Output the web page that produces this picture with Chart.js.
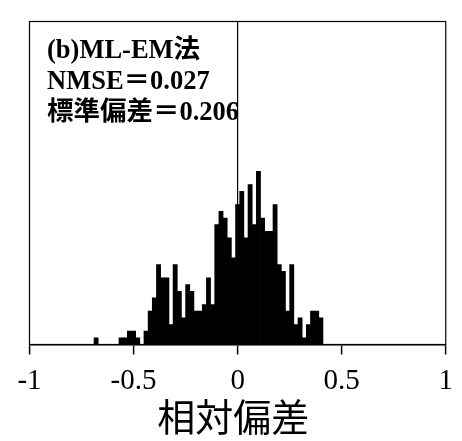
<!DOCTYPE html>
<html>
<head>
<meta charset="utf-8">
<script src="https://cdn.jsdelivr.net/npm/chart.js@4.4.1/dist/chart.umd.min.js"></script>
<style>
  html, body { margin: 0; padding: 0; background: #fff; }
  #wrap { width: 462px; height: 441px; }
</style>
</head>
<body>
<div id="wrap"><canvas id="histChart"></canvas></div>
<script>
// bin centres (relative deviation), bin width 0.02
const binCenters = [
  -0.68, -0.66, -0.64, -0.62, -0.60, -0.58, -0.56, -0.54, -0.52, -0.50,
  -0.48, -0.46, -0.44, -0.42, -0.40, -0.38, -0.36, -0.34, -0.32, -0.30,
  -0.28, -0.26, -0.24, -0.22, -0.20, -0.18, -0.16, -0.14, -0.12, -0.10,
  -0.08, -0.06, -0.04, -0.02, 0.00, 0.02, 0.04, 0.06, 0.08, 0.10,
  0.12, 0.14, 0.16, 0.18, 0.20, 0.22, 0.24, 0.26, 0.28, 0.30,
  0.32, 0.34, 0.36, 0.38, 0.40
];
// counts
const binCounts = [
  1, 0, 0, 0, 0, 0, 1, 1, 2, 2,
  1, 0, 2, 5, 7, 12, 10, 10, 3, 12,
  8, 4, 9, 8, 5, 5, 6, 10, 6, 18,
  20, 19, 16, 13, 21, 23, 16, 24, 18, 26,
  19, 17, 17, 21, 12, 11, 5, 12, 3, 4,
  1, 3, 5, 5, 4
];
const annotationLines = ['(b)ML-EM法', 'NMSE＝0.027', '標準偏差＝0.206'];
const xTitle = '相対偏差 ';

// frame + text block in upper left
const framePlugin = {
  id: 'framePlugin',
  afterDraw(chart) {
    const { ctx, chartArea: a } = chart;
    ctx.save();
    ctx.strokeStyle = '#000';
    ctx.lineWidth = 1.2;
    ctx.strokeRect(a.left, a.top, a.right - a.left, a.bottom - a.top);
    ctx.fillStyle = '#000';
    ctx.font = 'bold 26.5px "Liberation Serif", "Noto Sans CJK JP"';
    ctx.textBaseline = 'middle';
    ctx.textAlign = 'left';
    annotationLines.forEach((t, i) => {
      ctx.fillText(t, 47, 51 + i * 31);
    });
    ctx.restore();
  }
};

const ctx = document.getElementById('histChart').getContext('2d');
new Chart(ctx, {
  type: 'bar',
  data: {
    datasets: [{
      data: binCenters.map((c, i) => ({ x: c, y: binCounts[i] })),
      backgroundColor: '#000',
      borderWidth: 0,
      barPercentage: 1.0,
      categoryPercentage: 1.0
    }]
  },
  options: {
    responsive: true,
    maintainAspectRatio: false,
    animation: false,
    layout: { padding: { left: 29.5, right: 15, top: 21.5, bottom: 0 } },
    plugins: {
      legend: { display: false },
      tooltip: { enabled: false }
    },
    scales: {
      x: {
        type: 'linear',
        min: -1,
        max: 1,
        offset: false,
        afterFit: (axis) => { axis.height = 96.5; },
        grid: {
          display: true,
          offset: false,
          drawOnChartArea: true,
          color: (c) => (c.tick && Math.abs(c.tick.value) < 1e-9) ? '#000' : 'rgba(0,0,0,0)',
          lineWidth: 1.2,
          tickColor: '#000',
          tickLength: 10,
          tickWidth: 1.5
        },
        border: { display: true, color: '#000', width: 1.5 },
        ticks: {
          stepSize: 0.5,
          autoSkip: false,
          color: '#000',
          padding: 9,
          maxRotation: 0,
          font: { family: '"Liberation Serif"', size: 29 },
          callback: (v) => String(v)
        },
        title: {
          display: true,
          text: xTitle,
          color: '#000',
          padding: { top: 0, bottom: 2 },
          font: { family: '"Noto Sans CJK JP"', size: 38 }
        }
      },
      y: {
        display: false,
        min: 0,
        max: 48.5
      }
    }
  },
  plugins: [framePlugin]
});
</script>
</body>
</html>
